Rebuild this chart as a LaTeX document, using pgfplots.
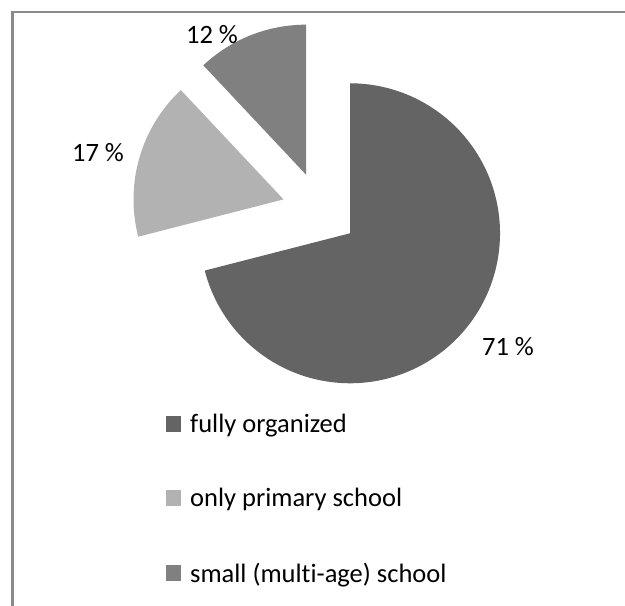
\documentclass[border=0pt]{standalone}
\usepackage{pgfplots}
\usepackage{pgfplotstable}
\pgfplotsset{compat=1.18}
\usepackage{fontspec}
\setmainfont{Carlito}[Ligatures=NoCommon]
\definecolor{cA}{HTML}{646464}
\definecolor{cB}{HTML}{B2B2B2}
\definecolor{cC}{HTML}{808080}
\definecolor{frame}{HTML}{8A8A8A}
\pgfplotstableread{
name value
A 71
B 17
C 12
}\piedata
\begin{document}
\begin{tikzpicture}
\pgfplotstablegetelem{0}{value}\of\piedata \let\vA\pgfplotsretval
\pgfplotstablegetelem{1}{value}\of\piedata \let\vB\pgfplotsretval
\pgfplotstablegetelem{2}{value}\of\piedata \let\vC\pgfplotsretval
\pgfmathsetmacro{\sA}{90}
\pgfmathsetmacro{\eA}{\sA-3.6*\vA}
\pgfmathsetmacro{\eB}{\eA-3.6*\vB}
\pgfmathsetmacro{\eC}{\eB-3.6*\vC}
\pgfmathsetmacro{\mA}{(\sA+\eA)/2}
\pgfmathsetmacro{\mB}{(\eA+\eB)/2}
\pgfmathsetmacro{\mC}{(\eB+\eC)/2}
% centre, radius, explosion
\pgfmathsetmacro{\cx}{320}
\pgfmathsetmacro{\cy}{396}
\pgfmathsetmacro{\ex}{38}
\pgfmathsetmacro{\xA}{\cx+\ex*cos(\mA)}
\pgfmathsetmacro{\yA}{\cy+\ex*sin(\mA)}
\pgfmathsetmacro{\xB}{\cx+\ex*cos(\mB)}
\pgfmathsetmacro{\yB}{\cy+\ex*sin(\mB)}
\pgfmathsetmacro{\xC}{\cx+\ex*cos(\mC)}
\pgfmathsetmacro{\yC}{\cy+\ex*sin(\mC)}
\begin{axis}[
  width=625bp, height=606bp, scale only axis,
  xmin=0, xmax=625, ymin=0, ymax=606,
  hide axis, clip=false,
  font=\fontsize{26.5bp}{31bp}\selectfont,
  legend image code/.code={\fill (0bp,-8bp) rectangle (15bp,8bp); \path (22bp,0bp);},
  legend style={draw=none, fill=none, at={(0.2656,0.3205)}, anchor=north west,
    font=\fontsize{26.5bp}{31bp}\selectfont, row sep=50.5bp,
    inner sep=0pt},
  legend cell align=left,
]
\addplot[draw=frame, line width=2.5bp, forget plot] coordinates {(12.5,0) (12.5,594) (625,594)};
\addplot[draw=none, fill=cA, domain=\eA:\sA, samples=181, variable=\t]
  ({\xA+150*cos(t)}, {\yA+150*sin(t)}) -- (axis cs:\xA,\yA) -- cycle;
\addlegendentry{fully organized}
\addplot[draw=none, fill=cB, domain=\eB:\eA, samples=61, variable=\t]
  ({\xB+150*cos(t)}, {\yB+150*sin(t)}) -- (axis cs:\xB,\yB) -- cycle;
\addlegendentry{only primary school}
\addplot[draw=none, fill=cC, domain=\eC:\eB, samples=61, variable=\t]
  ({\xC+150*cos(t)}, {\yC+150*sin(t)}) -- (axis cs:\xC,\yC) -- cycle;
\addlegendentry{small (multi-age) school}
\node at (axis cs:508,259) {71 \%};
\node at (axis cs:98,453) {17 \%};
\node at (axis cs:212,571) {12 \%};
\end{axis}
\pgfresetboundingbox
\path (current axis.south west) rectangle (current axis.north east);
\end{tikzpicture}
\end{document}
